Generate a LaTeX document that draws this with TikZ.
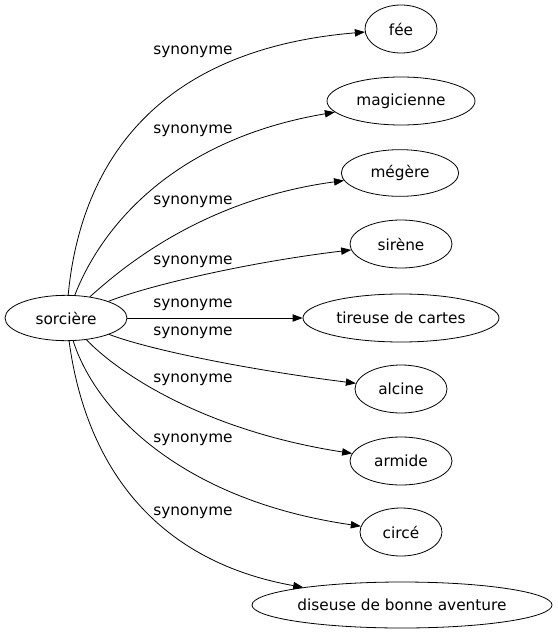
\documentclass[tikz,border=0pt]{standalone}
\usepackage{fontspec}
\setmainfont{DejaVu Sans}
\usetikzlibrary{shapes.geometric,arrows.meta}

\begin{document}
\begin{tikzpicture}[
    x=0.75pt, y=-0.75pt,
    word/.style={ellipse, draw, line width=0.6pt, inner sep=0pt, minimum height=36pt, font=\fontsize{11.5}{13}\selectfont},
    arrow/.style={-{Triangle[length=7.5pt,width=5.5pt]}, line width=0.6pt},
    lbl/.style={font=\fontsize{11.5}{13}\selectfont, inner sep=0pt}
]
\useasboundingbox (0,0) rectangle (557,635);

\node[word, minimum width=91.5pt, minimum height=34pt] (sorciere) at (66,318) {sorcière};
\node[word, minimum width=54pt] (fee) at (401,29) {fée};
\node[word, minimum width=111pt] (magicienne) at (401,101) {magicienne};
\node[word, minimum width=88pt, minimum height=35pt] (megere) at (400,173) {mégère};
\node[word, minimum width=76.5pt] (sirene) at (401,244) {sirène};
\node[word, minimum width=147pt] (tireuse) at (401,318) {tireuse de cartes};
\node[word, minimum width=69pt] (alcine) at (401,389) {alcine};
\node[word, minimum width=76.5pt] (armide) at (401,461) {armide};
\node[word, minimum width=61.5pt] (circe) at (401,532) {circé};
\node[word, minimum width=225pt, minimum height=34.5pt, inner xsep=-6pt] (diseuse) at (402,605) {diseuse de bonne aventure};

\draw[arrow] (sorciere) .. controls (80,170) and (150,50) .. (fee);
\draw[arrow] (sorciere) .. controls (100,230) and (170,140) .. (magicienne);
\draw[arrow] (sorciere) .. controls (120,270) and (200,200) .. (megere);
\draw[arrow] (sorciere) .. controls (150,285) and (250,262) .. (sirene);
\draw[arrow] (sorciere) -- (tireuse);
\draw[arrow] (sorciere) .. controls (150,350) and (250,370) .. (alcine);
\draw[arrow] (sorciere) .. controls (115,370) and (200,430) .. (armide);
\draw[arrow] (sorciere) .. controls (95,410) and (180,500) .. (circe);
\draw[arrow] (sorciere) .. controls (85,460) and (150,560) .. (diseuse);

\node[lbl] (l1) at (193,52) {synonyme};
\node[lbl] (l2) at (193,131) {synonyme};
\node[lbl] (l3) at (193,202) {synonyme};
\node[lbl] (l4) at (193,262) {synonyme};
\node[lbl] (l5) at (193,305) {synonyme};
\node[lbl] (l6) at (193,333) {synonyme};
\node[lbl] (l7) at (193,380) {synonyme};
\node[lbl] (l8) at (193,440) {synonyme};
\node[lbl] (l9) at (193,513) {synonyme};

\end{tikzpicture}
\end{document}
